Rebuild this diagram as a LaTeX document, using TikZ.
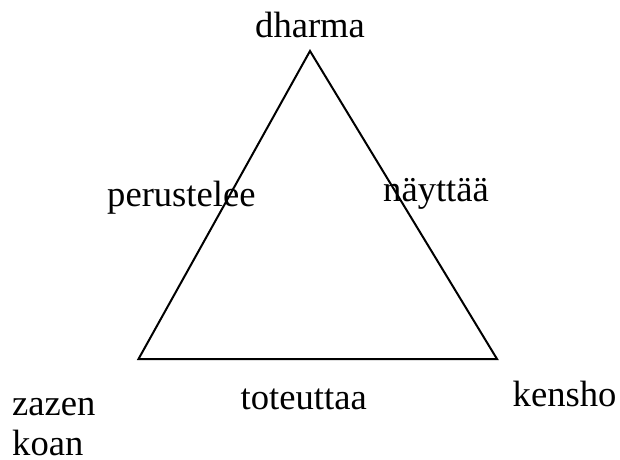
\documentclass[tikz,border=0pt]{standalone}
\usepackage{fontspec}
\setmainfont{Liberation Serif}
\begin{document}
\begin{tikzpicture}[x=1pt,y=-1pt,
  lbl/.style={inner sep=0pt,anchor=base west,font=\fontsize{36.6}{40}\selectfont},
  edge/.style={line width=2pt,line join=miter}]
\useasboundingbox (0,0) rectangle (620,459);
\coordinate (top) at (310,51);
\coordinate (bl) at (138.5,359);
\coordinate (br) at (497,359);
\draw[edge] (top) -- (bl) -- (br) -- cycle;
\node[lbl] (dharma) at (255,37) {dharma};
\node[lbl] (perustelee) at (107,206.5) {perustelee};
\node[lbl] (nayttaa) at (383,201.5) {näyttää};
\node[lbl] (toteuttaa) at (240.5,409.3) {toteuttaa};
\node[lbl] (kensho) at (512.5,406) {kensho};
\node[lbl,align=left,text depth=0pt] (zazen) at (12,455) {zazen\\koan};
\end{tikzpicture}
\end{document}
